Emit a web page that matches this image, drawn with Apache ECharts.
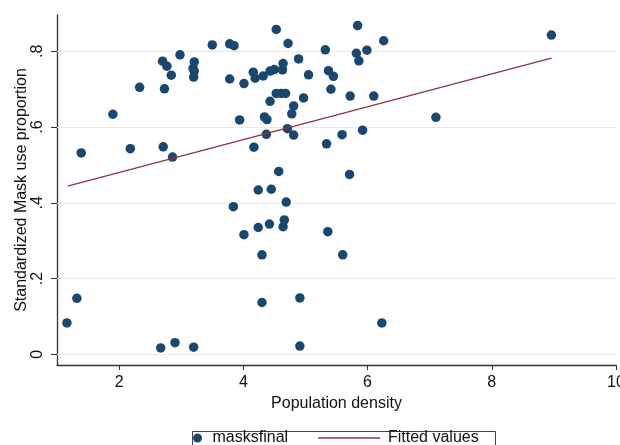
<!DOCTYPE html>
<html>
<head>
<meta charset="utf-8">
<script src="https://cdn.jsdelivr.net/npm/echarts@6/dist/echarts.min.js"></script>
<style>
  html, body { margin: 0; padding: 0; background: #fff; }
  #chart { width: 620px; height: 445px; }
</style>
</head>
<body>
<div id="chart"></div>
<script>
// population density (x) and standardized mask use (y)
const densityX = [
  1.39, 1.90, 2.18, 2.33, 2.70, 2.77, 2.73, 2.84, 2.71, 2.86,
  2.98, 3.21, 3.19, 3.21, 3.20, 3.50, 3.78, 3.85, 3.78, 4.01,
  3.94, 4.16, 4.19, 4.32, 4.43, 4.53, 4.72, 4.50, 4.63, 4.64,
  4.89, 5.05, 4.53, 4.61, 4.68, 4.43, 4.97, 4.81, 4.78, 4.34,
  4.38, 4.37, 4.71, 4.81, 4.17, 4.57, 4.24, 4.45, 4.69, 1.16,
  1.32, 2.67, 2.90, 3.20, 3.84, 4.01, 4.24, 4.42, 4.30, 4.64,
  4.66, 4.30, 4.91, 4.91, 5.32, 5.84, 5.82, 5.99, 5.86, 6.26,
  5.37, 5.45, 5.41, 5.72, 6.10, 7.10, 8.96, 5.92, 5.59, 5.34,
  5.71, 5.36, 5.60, 6.23
];
const maskShare = [
  0.532, 0.634, 0.543, 0.705, 0.774, 0.761, 0.701, 0.737, 0.548, 0.521,
  0.791, 0.772, 0.755, 0.748, 0.732, 0.817, 0.820, 0.815, 0.727, 0.715,
  0.619, 0.745, 0.729, 0.735, 0.748, 0.858, 0.821, 0.752, 0.751, 0.768,
  0.780, 0.738, 0.689, 0.689, 0.689, 0.668, 0.677, 0.656, 0.635, 0.627,
  0.620, 0.581, 0.596, 0.579, 0.547, 0.483, 0.434, 0.436, 0.402, 0.083,
  0.148, 0.017, 0.031, 0.019, 0.390, 0.316, 0.335, 0.344, 0.263, 0.337,
  0.355, 0.137, 0.149, 0.022, 0.804, 0.868, 0.795, 0.803, 0.775, 0.828,
  0.749, 0.734, 0.700, 0.682, 0.682, 0.626, 0.843, 0.592, 0.580, 0.556,
  0.475, 0.324, 0.263, 0.083
];
// fitted line end points
const fitX = [1.17, 8.96];
const fitY = [0.444, 0.782];

const xTicks = [2, 4, 6, 8, 10];
const yTicks = [0, 0.2, 0.4, 0.6, 0.8];
const yTickLabels = ['0', '.2', '.4', '.6', '.8'];

const FONT = '"Liberation Sans", Arial, Helvetica, sans-serif';

var chartDom = document.getElementById('chart');
var myChart = echarts.init(chartDom, null, { renderer: 'canvas' });

const points = densityX.map((x, i) => [x, maskShare[i]]);
const fitLine = fitX.map((x, i) => [x, fitY[i]]);

var option = {
  backgroundColor: '#ffffff',
  animation: false,
  textStyle: { fontFamily: FONT },
  grid: { left: 57, right: 4, top: 15, bottom: 80, containLabel: false, outerBoundsMode: 'none' },
  xAxis: {
    type: 'value',
    min: 1,
    max: 10,
    name: 'Population density',
    nameLocation: 'middle',
    nameGap: 27,
    nameTextStyle: { fontSize: 16, color: '#111', fontFamily: FONT },
    axisLine: { show: true, onZero: false, lineStyle: { color: '#333', width: 1.3 } },
    axisTick: { show: true, length: 5, customValues: xTicks, lineStyle: { color: '#333' } },
    axisLabel: { customValues: xTicks, fontSize: 16, color: '#111', margin: 10, fontFamily: FONT },
    splitLine: { show: false }
  },
  yAxis: {
    type: 'value',
    min: -0.028,
    max: 0.896,
    name: 'Standardized Mask use proportion',
    nameLocation: 'middle',
    nameRotate: 90,
    nameGap: 27,
    nameMoveOverlap: false,
    nameTextStyle: { fontSize: 16, color: '#111', fontFamily: FONT },
    axisLine: { show: true, onZero: false, lineStyle: { color: '#333', width: 1.3 } },
    axisTick: { show: true, length: 6, customValues: yTicks, lineStyle: { color: '#333' } },
    axisLabel: {
      customValues: yTicks,
      rotate: 90,
      fontSize: 16,
      color: '#111',
      margin: 11,
      fontFamily: FONT,
      formatter: v => {
        const k = yTicks.findIndex(t => Math.abs(t - v) < 1e-6);
        return k >= 0 ? yTickLabels[k] : '';
      }
    },
    splitLine: { show: false }
  },
  legend: [
    {
      data: ['masksfinal'],
      left: 193,
      top: 430,
      padding: 0,
      itemWidth: 10,
      itemHeight: 9,
      textStyle: { fontSize: 16, color: '#111', fontFamily: FONT, padding: [0, 0, 0, 5] }
    },
    {
      data: [{ name: 'Fitted values', icon: 'rect' }],
      left: 318,
      top: 430,
      padding: 0,
      itemWidth: 62,
      itemHeight: 1.4,
      textStyle: { fontSize: 16, color: '#111', fontFamily: FONT, padding: [0, 0, 0, 3] }
    }
  ],
  graphic: [
    {
      type: 'rect',
      left: 190,
      top: 429,
      shape: { width: 303, height: 40 },
      style: { fill: 'none', stroke: '#444', lineWidth: 1 },
      silent: true
    }
  ],
  series: [
    {
      name: 'masksfinal',
      type: 'scatter',
      data: points,
      symbol: 'circle',
      symbolSize: 9.5,
      itemStyle: { color: '#1a476f', opacity: 1 },
      z: 3,
      markLine: {
        silent: true,
        symbol: 'none',
        label: { show: false },
        lineStyle: { color: '#e3ebee', type: 'solid', width: 1 },
        data: yTicks.map(t => ({ yAxis: t })),
        z: 1
      }
    },
    {
      name: 'Fitted values',
      type: 'line',
      data: fitLine,
      symbol: 'none',
      showSymbol: false,
      lineStyle: { color: '#90353b', width: 1.3 },
      itemStyle: { color: '#90353b' },
      z: 4
    }
  ]
};
option && myChart.setOption(option);
</script>
</body>
</html>
